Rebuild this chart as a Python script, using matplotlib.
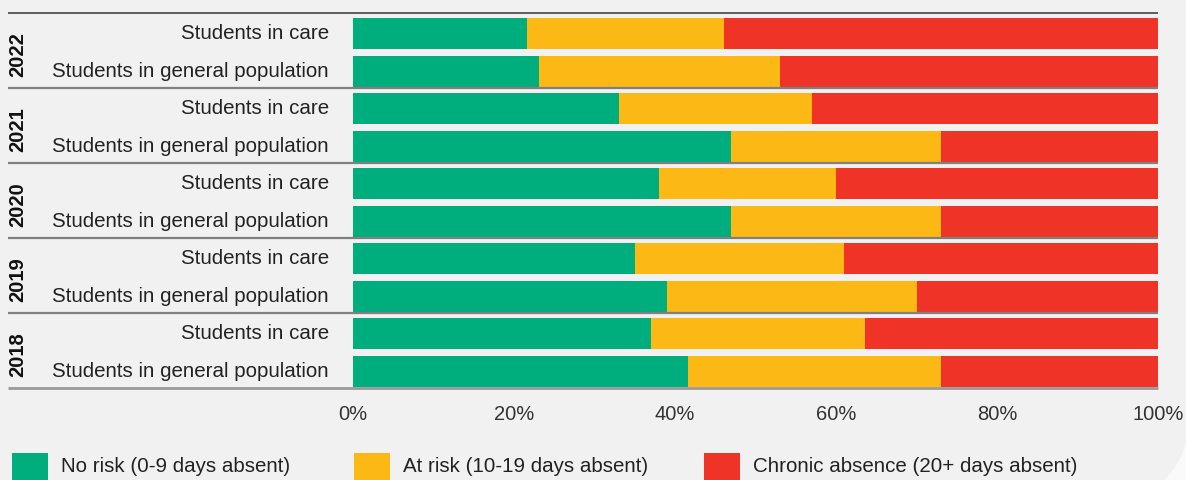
import numpy as np
import matplotlib
matplotlib.use('Agg')
import matplotlib.pyplot as plt
from matplotlib.path import Path
from matplotlib.patches import PathPatch

plt.rcParams['font.family'] = ['Liberation Sans', 'DejaVu Sans']

# 출석 위험도 비율 (%), 위에서 아래 순서
years = ['2022', '2021', '2020', '2019', '2018']
groups = ['Students in care', 'Students in general population']
no_risk = [21.6, 23.1, 33.0, 47.0, 38.0, 47.0, 35.0, 39.0, 37.0, 41.6]
at_risk = [24.5, 29.9, 24.0, 26.0, 22.0, 26.0, 26.0, 31.0, 26.6, 31.4]
chronic = [53.9, 47.0, 43.0, 27.0, 40.0, 27.0, 39.0, 30.0, 36.4, 27.0]
ticks = [0, 20, 40, 60, 80, 100]
series_names = ['No risk (0-9 days absent)', 'At risk (10-19 days absent)',
                'Chronic absence (20+ days absent)']
colors = ['#00ad7d', '#fcb814', '#ef3326']
bg = '#f1f1f1'

fig = plt.figure(figsize=(11.86, 4.8), dpi=100, facecolor=bg)

# 오른쪽 아래 둥근 모서리 장식
corner = Path([(1.0, 0.077), (0.995, 0.031), (0.9815, 0.0), (1.0, 0.0), (1.0, 0.077)],
              [Path.MOVETO, Path.CURVE3, Path.CURVE3, Path.LINETO, Path.CLOSEPOLY])
fig.patches.append(PathPatch(corner, transform=fig.transFigure, facecolor='#fafafa',
                             edgecolor='none', zorder=0))

ax = fig.add_axes([353 / 1186, 1 - 388 / 480, 805 / 1186, 375 / 480])
ax.set_facecolor(bg)

n = len(no_risk)
y = np.arange(n) + 0.55
left = np.zeros(n)
for vals, c in zip([no_risk, at_risk, chronic], colors):
    ax.barh(y, vals, left=left, height=0.83, color=c, linewidth=0)
    left += np.array(vals)

ax.set_xlim(0, 100)
ax.set_ylim(n, 0)
ax.set_xticks(ticks)
ax.set_xticklabels([f'{t}%' for t in ticks], fontsize=14.5, color='#333333')
ax.tick_params(axis='x', length=0, pad=12)
ax.set_yticks([])
for s in ax.spines.values():
    s.set_visible(False)

# 그룹 구분선
x_line = -345 / 805
trans = ax.get_yaxis_transform()
for k in range(len(years) + 1):
    if k == 0:
        col, lw = '#444444', 1.2
    elif k == len(years):
        col, lw = '#999999', 2.0
    else:
        col, lw = '#808080', 1.6
    ax.plot([x_line, 1.0], [2 * k, 2 * k], transform=trans, color=col, lw=lw,
            clip_on=False, solid_capstyle='butt')

# 막대 이름과 연도 라벨
for i in range(n):
    ax.text(-24 / 805, y[i], groups[i % 2], transform=trans, ha='right', va='center',
            fontsize=14.8, color='#222222')
for k, yr in enumerate(years):
    ax.text(-335 / 805, 2 * k + 1.1, yr, transform=trans, ha='center', va='center',
            rotation=90, fontsize=14.5, fontweight='bold', color='#111111')

# 범례
leg_x = [12, 354, 704]
for name, c, lx in zip(series_names, colors, leg_x):
    fig.patches.append(plt.Rectangle((lx / 1186, 0), 36 / 1186, 27 / 480,
                                     transform=fig.transFigure, facecolor=c,
                                     edgecolor='none'))
    fig.text((lx + 49) / 1186, 13 / 480, name, ha='left', va='center',
             fontsize=14.8, color='#222222')

fig.savefig('out.png', dpi=100, facecolor=bg)
